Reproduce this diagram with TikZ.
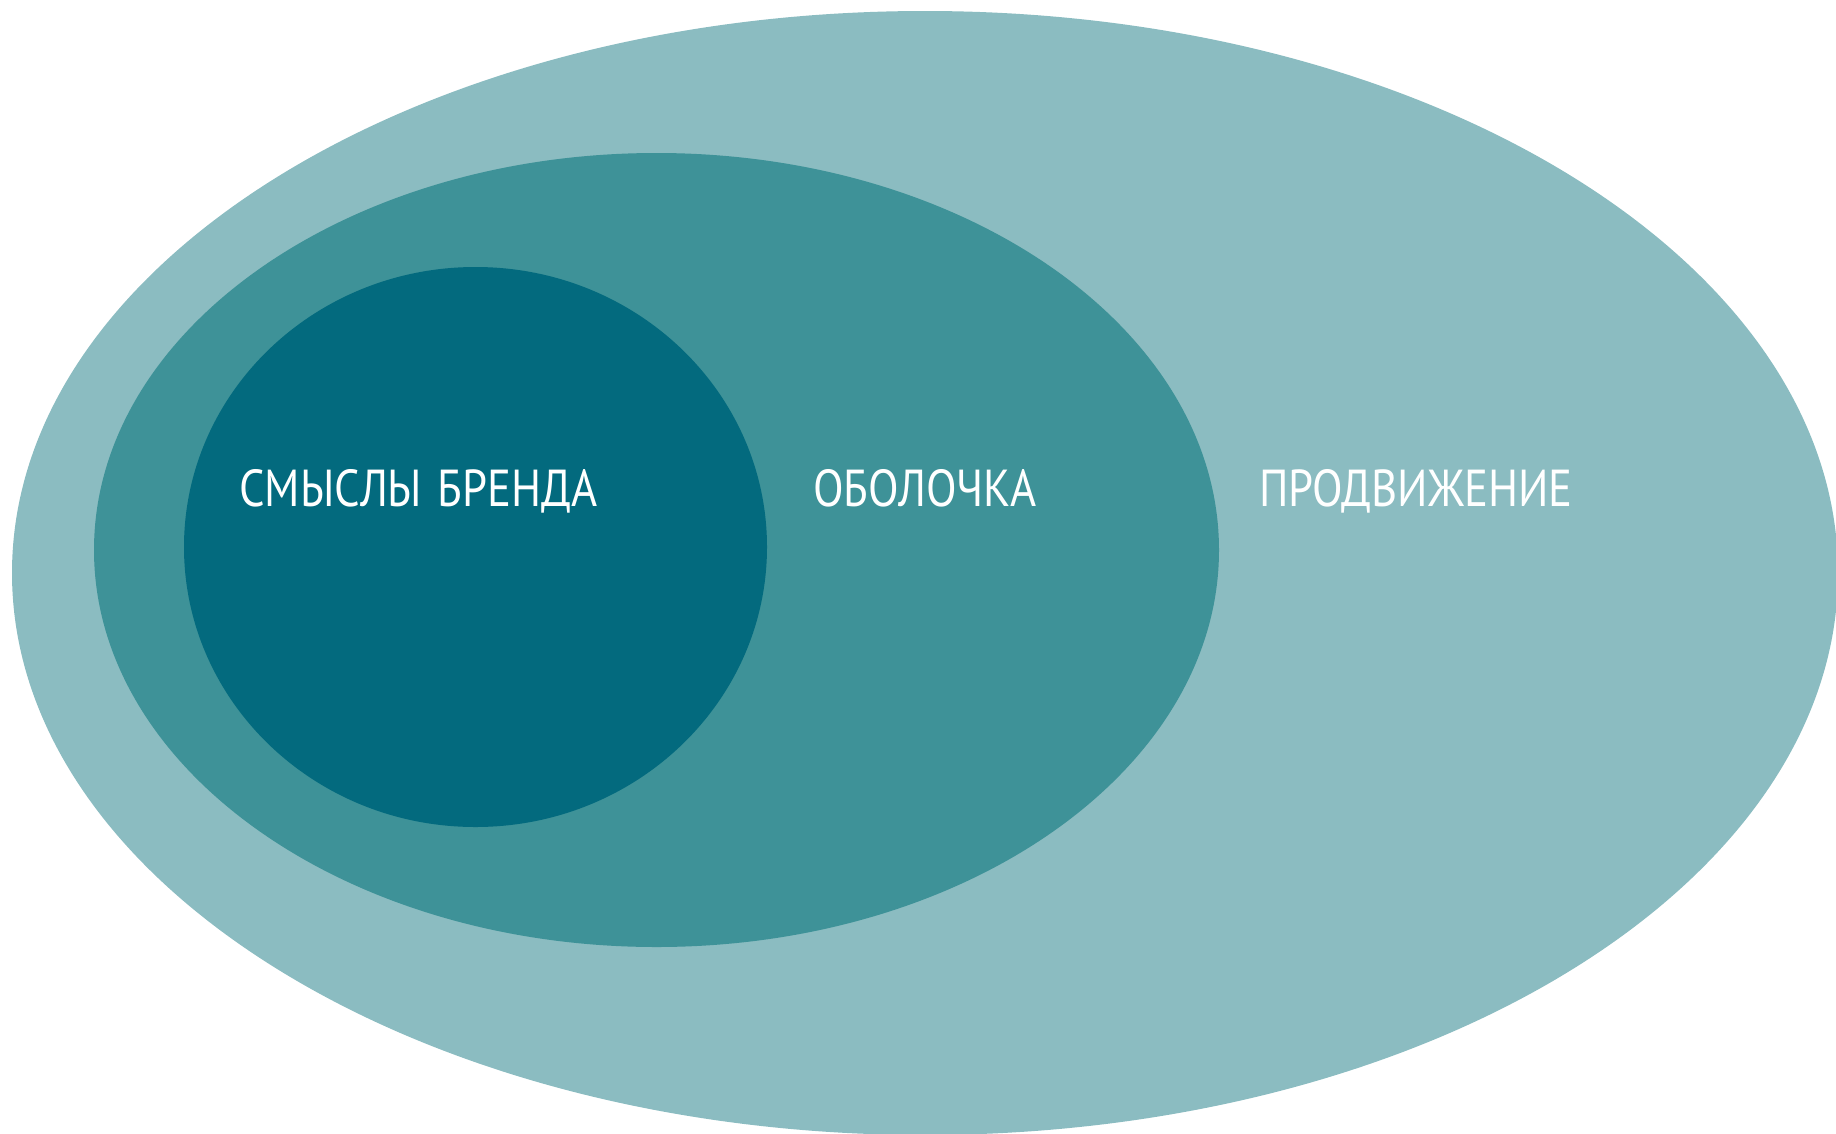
\documentclass[tikz,border=0pt]{standalone}
\usepackage{fontspec}
\setmainfont{PT Sans}[FakeStretch=0.86, WordSpace=1.3]
\usepackage{xcolor}
\usepackage{tikz}
\usetikzlibrary{shapes.geometric, positioning}
\definecolor{promo}{HTML}{8BBCC1}
\definecolor{shell}{HTML}{3E9298}
\definecolor{core}{HTML}{036A7E}
\tikzstyle{layer} = [ellipse, inner sep=0pt, draw=none]
\tikzstyle{label} = [text=white, font=\fontsize{52}{52}\selectfont, inner sep=0pt, anchor=base west]

\begin{document}
\begin{tikzpicture}[x=1pt, y=-1pt]
                  \useasboundingbox (0,0) rectangle (1836,1133);
                  \clip (0,0) rectangle (1836,1133);
                  \node (promotion) [layer, fill=promo, minimum width=1826pt, minimum height=1124pt] at (925,573) {};
                  \node (wrapper) [layer, fill=shell, minimum width=1125pt, minimum height=794pt] at (656.5,550) {};
                  \node (meaning) [layer, fill=core, minimum width=583pt, minimum height=560pt] at (475.5,547) {};

                  \node (meaning-text) [label] at (239,506) {СМЫСЛЫ БРЕНДА};
                  \node (wrapper-text) [label] at (813,506) {ОБОЛОЧКА};
                  \node (promotion-text) [label] at (1259,506) {ПРОДВИЖЕНИЕ};
              \end{tikzpicture}
\end{document}
